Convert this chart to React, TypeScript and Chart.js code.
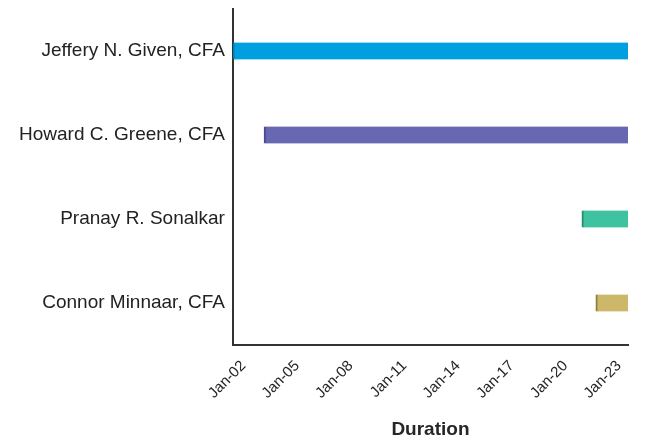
import React, { useEffect, useRef } from "react";
import { Chart, registerables } from "chart.js";

Chart.register(...registerables);

const people = [
  "Jeffery N. Given, CFA",
  "Howard C. Greene, CFA",
  "Pranay R. Sonalkar",
  "Connor Minnaar, CFA",
];
// tenure start and end, in fractional years
const startYears = [2001.41, 2003.15, 2020.92, 2021.7];
const endYears = [2023.5, 2023.5, 2023.5, 2023.5];
const barColors = ["#00A0E0", "#6868B2", "#3EC2A0", "#CDB86A"];
const edgeColors = ["#0080B8", "#4A4A8C", "#2A8A70", "#8E7E44"];
const tickYears = [2002, 2005, 2008, 2011, 2014, 2017, 2020, 2023];
const axisMin = 2001.41;
const axisMax = 2023.5;

export default function App() {
  const ref = useRef<HTMLCanvasElement | null>(null);
  useEffect(() => {
    if (!ref.current) return;
    const chart = new Chart(ref.current, {
      type: "bar",
      data: {
        labels: people,
        datasets: [
          {
            data: startYears.map((s, i) => [s, endYears[i]]) as any,
            backgroundColor: barColors,
            borderColor: edgeColors,
            borderWidth: { left: 2, right: 0, top: 0, bottom: 0 } as any,
            borderSkipped: false,
            barThickness: 17,
          },
        ],
      },
      options: {
        indexAxis: "y",
        animation: false,
        responsive: false,
        layout: { padding: { left: 19, right: 27, top: 0, bottom: 0 } },
        plugins: { legend: { display: false }, tooltip: { enabled: false } },
        scales: {
          x: {
            type: "linear",
            min: axisMin,
            max: axisMax,
            grid: { display: false },
            border: { display: true, color: "#333333", width: 2 },
            afterBuildTicks: (scale: any) => {
              scale.ticks = tickYears.map((v) => ({ value: v }));
            },
            ticks: {
              autoSkip: false,
              minRotation: 45,
              maxRotation: 45,
              padding: 4,
              color: "#262626",
              font: { family: "Liberation Sans", size: 15 },
              callback: (v: any) => "Jan-" + String(v).slice(2),
            },
            title: {
              display: true,
              text: "Duration",
              color: "#262626",
              font: { family: "Liberation Sans", size: 19, weight: "bold" },
              padding: { top: 12, bottom: 0 },
            },
          },
          y: {
            grid: { display: false },
            border: { display: true, color: "#333333", width: 2 },
            afterFit: (scale: any) => {
              scale.paddingTop = 9;
              scale.paddingBottom = 0;
            },
            ticks: {
              padding: 0,
              color: "#222222",
              font: { family: "Liberation Sans", size: 19 },
            },
          },
        },
      },
    });
    return () => chart.destroy();
  }, []);
  return (
    <div style={{ position: "absolute", left: 0, top: 0, width: 655, height: 441, background: "#fff" }}>
      <canvas ref={ref} width={655} height={441} style={{ display: "block" }} />
    </div>
  );
}
